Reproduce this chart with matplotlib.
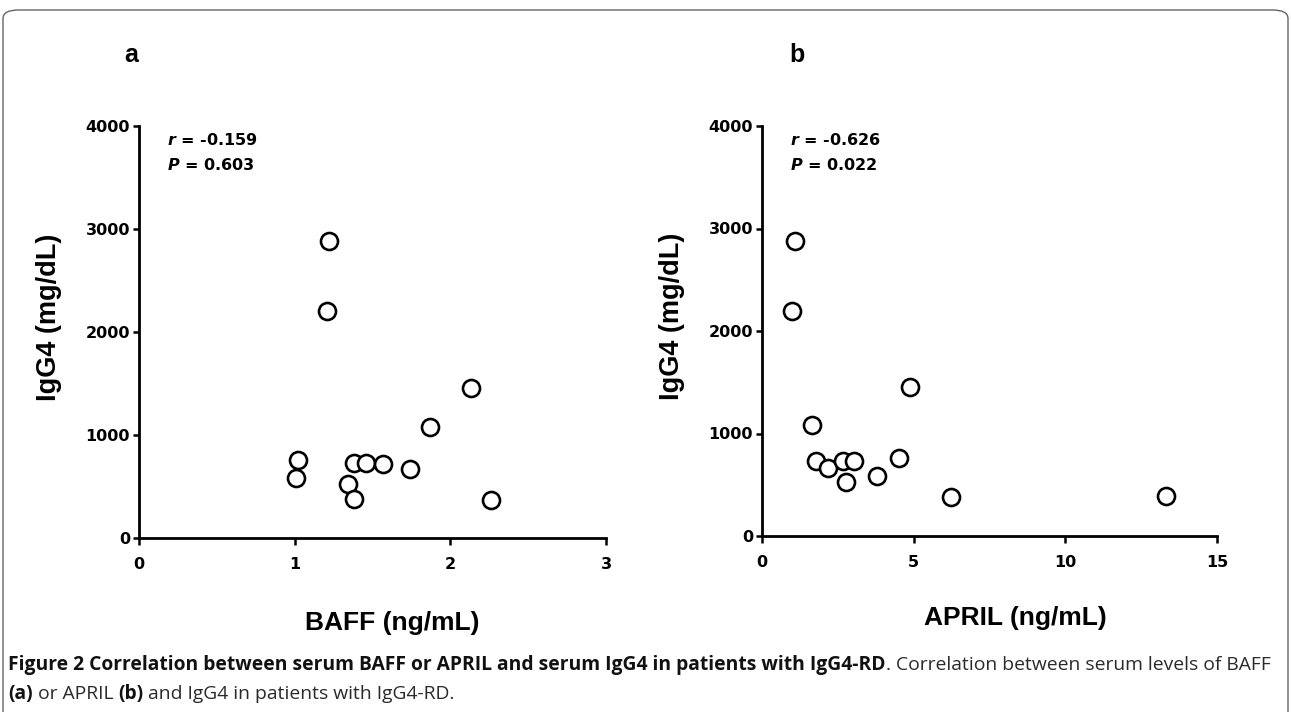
import matplotlib
matplotlib.use("Agg")
import matplotlib.pyplot as plt
from matplotlib.patches import FancyBboxPatch

# ---- data ----
baff = [1.22, 1.21, 1.02, 1.01, 1.38, 1.46, 1.57, 1.34, 1.38, 1.74, 1.87, 2.13, 2.26]
igg4_a = [2880, 2205, 755, 580, 728, 728, 720, 528, 382, 670, 1082, 1452, 372]
april = [1.09, 0.99, 1.64, 1.79, 2.19, 2.67, 3.04, 2.78, 3.79, 4.53, 4.87, 6.23, 13.33]
igg4_b = [2876, 2200, 1079, 734, 660, 731, 734, 530, 588, 757, 1456, 383, 393]

xticks_a = [0, 1, 2, 3]
xticks_b = [0, 5, 10, 15]
yticks = [0, 1000, 2000, 3000, 4000]
stats_a = ("-0.159", "0.603")
stats_b = ("-0.626", "0.022")

W, H = 1291, 712
fig = plt.figure(figsize=(W / 100, H / 100), dpi=100)

def fx(px):
    return px / W

def fy(py):
    return 1 - py / H

# border
border = FancyBboxPatch((fx(3), fy(760)), fx(1285), (760 - 10) / H,
                        boxstyle="round,pad=0,rounding_size=0.012",
                        transform=fig.transFigure, fill=False,
                        edgecolor="#666666", linewidth=1.0, clip_on=False)
fig.patches.append(border)

LAB = "Liberation Sans"
SMALL = "DejaVu Sans"

plt.rcParams["mathtext.fontset"] = "custom"
plt.rcParams["mathtext.bfit"] = "DejaVu Sans:bold:italic"


def make_panel(left, right, bottom, top, x, y, xt, xlabel, xlab_xy, ylab_xy, stats, letter, letter_px):
    ax = fig.add_axes([fx(left), fy(bottom), fx(right - left), (bottom - top) / H])
    ax.scatter(x, y, s=150, facecolors="white", edgecolors="black", linewidths=1.9,
               zorder=3, clip_on=False)
    ax.set_xlim(xt[0], xt[-1])
    ax.set_ylim(0, 4000)
    ax.set_xticks(xt)
    ax.set_yticks(yticks)
    for s in ("top", "right"):
        ax.spines[s].set_visible(False)
    for s in ("left", "bottom"):
        ax.spines[s].set_linewidth(2.0)
    ax.tick_params(axis="y", direction="out", length=4.5, width=1.8, pad=2)
    ax.tick_params(axis="x", direction="out", length=5, width=1.8, pad=9)
    for lab in ax.get_xticklabels() + ax.get_yticklabels():
        lab.set_fontfamily(SMALL)
        lab.set_fontweight("bold")
        lab.set_fontsize(11.5)
    ax.set_ylabel("IgG4 (mg/dL)", fontfamily=LAB, fontweight="bold", fontsize=19.5)
    ax.yaxis.set_label_coords(*ylab_xy)
    ax.set_xlabel(xlabel, fontfamily=LAB, fontweight="bold", fontsize=19)
    ax.xaxis.set_label_coords(*xlab_xy)
    tx = fx(left + 28)
    fig.text(tx, fy(140), r"$\mathbfit{r}$" + " = " + stats[0], fontfamily=SMALL,
             fontweight="bold", fontsize=11.5, va="center", ha="left")
    fig.text(tx, fy(165), r"$\mathbfit{P}$" + " = " + stats[1], fontfamily=SMALL,
             fontweight="bold", fontsize=11.5, va="center", ha="left")
    fig.text(fx(letter_px), fy(55), letter, fontfamily=LAB,
             fontweight="bold", fontsize=18, va="center", ha="center")
    return ax

make_panel(139, 606, 538, 126, baff, igg4_a, xticks_a, "BAFF (ng/mL)",
           (0.543, -0.177), (-0.165, 0.536), stats_a, "a", 131)
make_panel(762, 1217, 536, 126, april, igg4_b, xticks_b, "APRIL (ng/mL)",
           (0.556, -0.171), (-0.169, 0.536), stats_b, "b", 797)

# caption
CAP = ["Open Sans", "DejaVu Sans"]
fig.canvas.draw()
renderer = fig.canvas.get_renderer()

def seg(x_px, y_px, s, bold, color):
    t = fig.text(fx(x_px), fy(y_px), s, fontfamily=CAP, fontsize=13.9,
                 fontweight="bold" if bold else "normal", color=color, va="center", ha="left")
    bb = t.get_window_extent(renderer=renderer)
    return x_px + bb.width

x = 8
x = seg(x, 665, "Figure 2 Correlation between serum BAFF or APRIL and serum IgG4 in patients with IgG4-RD", True, "#111111")
seg(x, 665, ". Correlation between serum levels of BAFF", False, "#2a2a2a")
x = 8
x = seg(x, 694, "(a)", True, "#111111")
x = seg(x, 694, " or APRIL ", False, "#2a2a2a")
x = seg(x, 694, "(b)", True, "#111111")
seg(x, 694, " and IgG4 in patients with IgG4-RD.", False, "#2a2a2a")

fig.savefig("out.png", dpi=100)
